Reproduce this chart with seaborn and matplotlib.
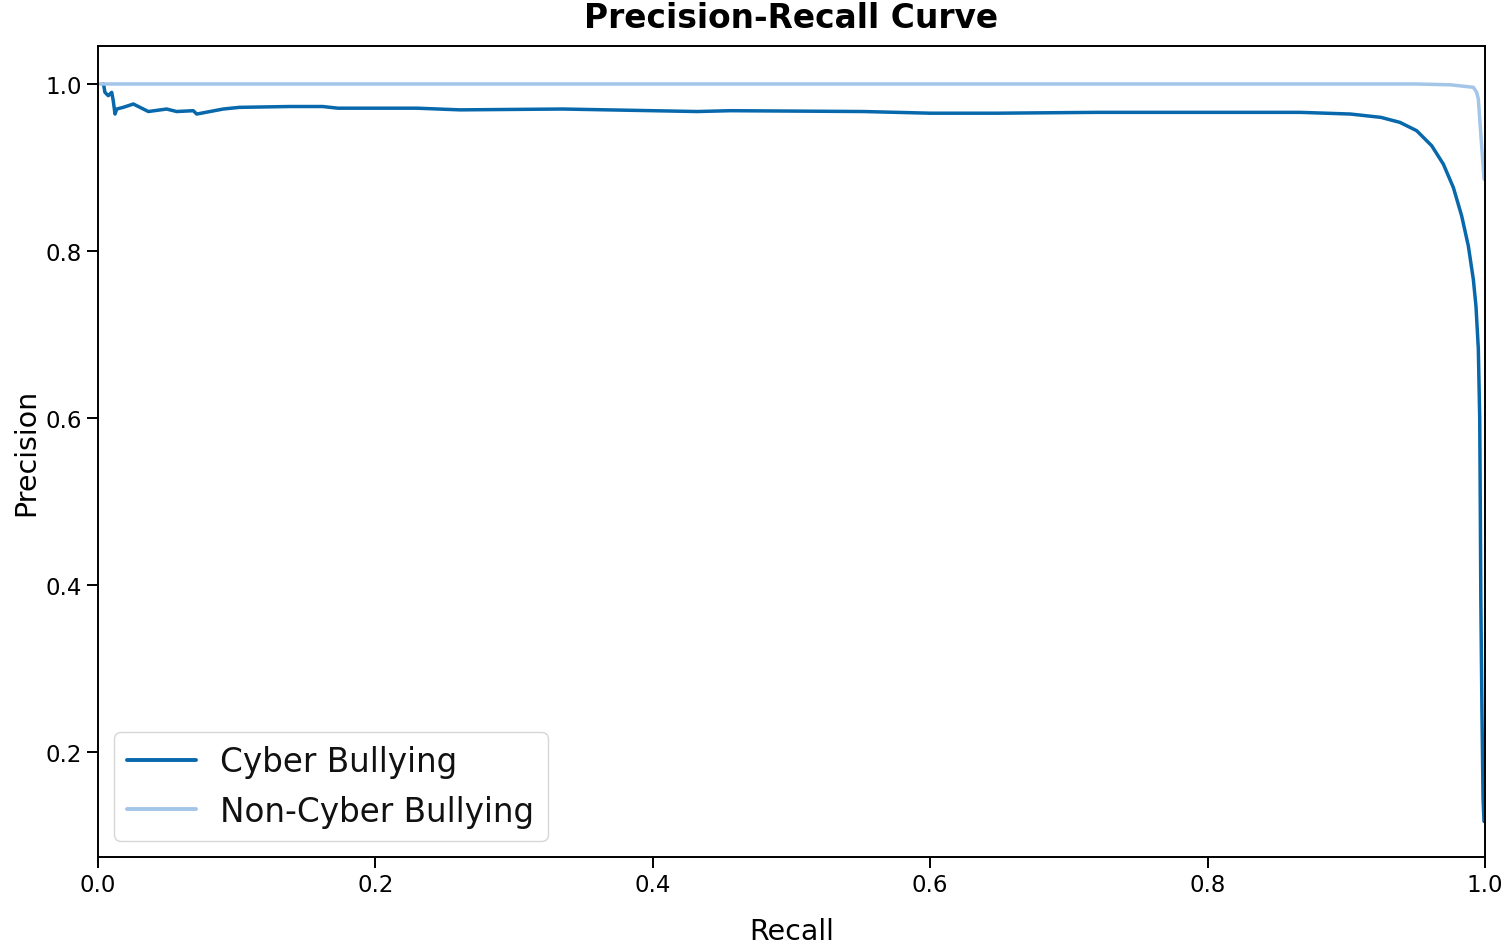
import numpy as np
import pandas as pd
import matplotlib
matplotlib.use("Agg")
import matplotlib.pyplot as plt
import seaborn as sns

# ---- data ----
cyber_recall = [0.004, 0.005, 0.0074, 0.0099, 0.011, 0.0123, 0.0135, 0.0182, 0.0255,
                0.0327, 0.0363, 0.0495, 0.0567, 0.0687, 0.0712, 0.0903, 0.102, 0.138,
                0.162, 0.173, 0.230, 0.261, 0.335, 0.432, 0.456, 0.552, 0.600, 0.648,
                0.720, 0.744, 0.867, 0.903, 0.925, 0.9387, 0.9508, 0.9616, 0.970,
                0.9772, 0.9832, 0.9880, 0.9916, 0.9935, 0.9952, 0.9962, 0.9966,
                0.9970, 0.9978, 0.9986, 0.9993]
cyber_precision = [1.0, 0.990, 0.986, 0.990, 0.980, 0.964, 0.970, 0.972, 0.976,
                   0.970, 0.967, 0.970, 0.967, 0.968, 0.964, 0.970, 0.972, 0.973,
                   0.973, 0.971, 0.971, 0.969, 0.970, 0.967, 0.968, 0.967, 0.965, 0.965,
                   0.966, 0.966, 0.966, 0.964, 0.960, 0.954, 0.944, 0.926, 0.904,
                   0.876, 0.842, 0.806, 0.766, 0.734, 0.683, 0.600, 0.500,
                   0.383, 0.250, 0.145, 0.117]

noncyber_recall = [0.0, 0.5, 0.95, 0.975, 0.9916, 0.9940, 0.9952, 0.9993]
noncyber_precision = [1.0, 1.0, 1.0, 0.999, 0.996, 0.990, 0.982, 0.886]

labels = ["Cyber Bullying", "Non-Cyber Bullying"]
colors = ["#0868ac", "#a3c5e8"]

df = pd.concat([
    pd.DataFrame({"Recall": cyber_recall, "Precision": cyber_precision, "Class": labels[0]}),
    pd.DataFrame({"Recall": noncyber_recall, "Precision": noncyber_precision, "Class": labels[1]}),
], ignore_index=True)

sns.set_style("ticks", {"text.color": "black", "axes.labelcolor": "black",
                        "xtick.color": "black", "ytick.color": "black",
                        "axes.edgecolor": "black"})
plt.rcParams["font.family"] = ["DejaVu Sans"]

fig, ax = plt.subplots(figsize=(15.05, 9.45), dpi=100)
fig.subplots_adjust(left=0.0651, right=0.9867, top=0.9503, bottom=0.0921)

sns.lineplot(data=df, x="Recall", y="Precision", hue="Class", palette=colors,
             estimator=None, sort=False, linewidth=2.5, ax=ax)

ax.set_xlim(0.0, 1.0)
ax.set_ylim(0.0745, 1.0455)
ax.set_xticks([0.0, 0.2, 0.4, 0.6, 0.8, 1.0])
ax.set_yticks([0.2, 0.4, 0.6, 0.8, 1.0])
ax.tick_params(axis="both", labelsize=16.5, length=8, width=1.4)
for s in ax.spines.values():
    s.set_linewidth(1.4)

ax.set_xlabel("Recall", fontsize=20.5, labelpad=15)
ax.set_ylabel("Precision", fontsize=20.5, labelpad=4)
ax.set_title("Precision-Recall Curve", fontsize=23.7, fontweight="bold", pad=14)

leg = ax.legend(loc="lower left", fontsize=23.5, frameon=True, borderaxespad=0.5,
                handlelength=2.1, handletextpad=0.75, labelspacing=0.5)
for line in leg.get_lines():
    line.set_linewidth(2.8)
for t in leg.get_texts():
    t.set_color("#111111")

plt.savefig("out.png", dpi=100)
plt.close()
